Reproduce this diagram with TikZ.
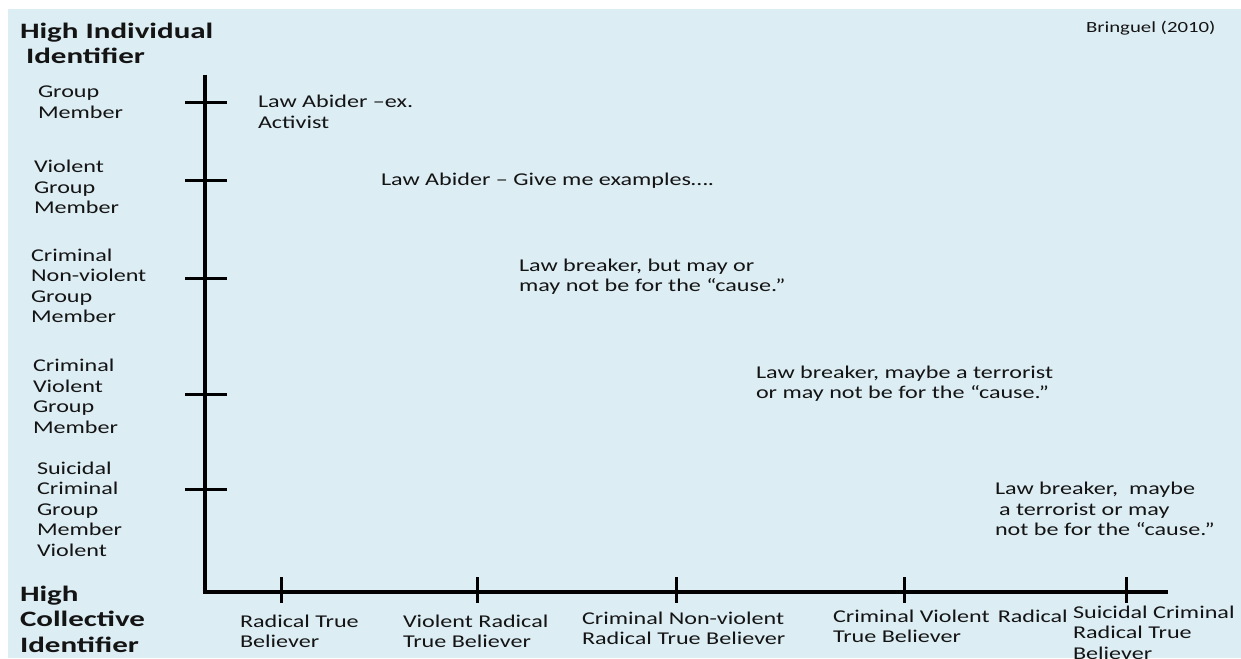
\documentclass[tikz,border=0pt]{standalone}
\usepackage{fontspec}
\setmainfont{Carlito}[FakeStretch=1.34]
\newfontfamily\hdfont{Carlito}[FakeStretch=1.41]
\definecolor{bgblue}{RGB}{220,237,244}
\definecolor{txt}{RGB}{20,20,20}
\begin{document}
\begin{tikzpicture}[x=1pt,y=-1pt,
  lbl/.style={anchor=north west,inner sep=0pt,outer sep=0pt,align=left,text=txt,font=\fontsize{18}{20.6}\selectfont},
  boldlbl/.style={lbl,font=\fontsize{22}{25.5}\selectfont\hdfont\bfseries},
  vaxis/.style={line width=4.8pt,black},
  haxis/.style={line width=3.5pt,black},
  tickline/.style={line width=3pt,black}]
\useasboundingbox (0,0) rectangle (1241,658);
\fill[bgblue] (8,9) rectangle (1241,658);

% axes
\coordinate (ytop) at (205,75);
\coordinate (origin) at (205,593.6);
\coordinate (xstart) at (202.6,592);
\coordinate (xend) at (1168,592);
\draw[vaxis] (ytop) -- (origin);
\draw[haxis] (xstart) -- (xend);

% y ticks
\foreach \n/\yy in {1/102.7,2/180.7,3/278.3,4/394.3,5/489}{
  \coordinate (yl\n) at (185,\yy);
  \coordinate (yr\n) at (226.5,\yy);
  \draw[tickline] (yl\n) -- (yr\n);
}
% x ticks
\foreach \n/\xx in {1/281,2/477,3/676,4/904.6,5/1126.6}{
  \coordinate (xt\n) at (\xx,577);
  \coordinate (xb\n) at (\xx,603);
  \draw[tickline] (xt\n) -- (xb\n);
}

% titles
\node[boldlbl] (hii) at (20,23) {High Individual\\\hspace{6pt}Identifier};
\node[boldlbl] (hci) at (20,586) {High\\Collective\\Identifier};
\node[lbl,anchor=west,font=\fontsize{15.5}{17}\selectfont] (bring) at (1086,28.5) {Bringuel (2010)};

% y labels
\node[lbl] (g1) at (38,86) {Group\\Member};
\node[lbl] (g2) at (34,160) {Violent\\Group\\Member};
\node[lbl] (g3) at (31,248.5) {Criminal\\Non-violent\\Group\\Member};
\node[lbl] (g4) at (33,359) {Criminal\\Violent\\Group\\Member};
\node[lbl] (g5) at (37,461.5) {Suicidal\\Criminal\\Group\\Member\\Violent};

% annotations
\node[lbl] (a1) at (258,95.5) {Law Abider –ex.\\Activist};
\node[lbl] (a2) at (381,173.5) {Law Abider – Give me examples….};
\node[lbl] (a3) at (519,258.5) {Law breaker, but may or\\may not be for the “cause.”};
\node[lbl] (a4) at (756,365.5) {Law breaker, maybe a terrorist\\or may not be for the “cause.”};
\node[lbl] (a5) at (995,482) {Law breaker,\ \ maybe\\\hspace{4pt}a terrorist or may\\not be for the “cause.”};

% x labels
\node[lbl] (r1) at (240,614.5) {Radical True\\Believer};
\node[lbl] (r2) at (403,614.5) {Violent Radical\\True Believer};
\node[lbl] (r3) at (582,611.5) {Criminal Non-violent\\Radical True Believer};
\node[lbl] (r4) at (833,609.5) {Criminal Violent\hspace{8pt}Radical\\True Believer};
\node[lbl] (r5) at (1073,605.5) {Suicidal Criminal\\Radical True\\Believer};
\end{tikzpicture}
\end{document}
